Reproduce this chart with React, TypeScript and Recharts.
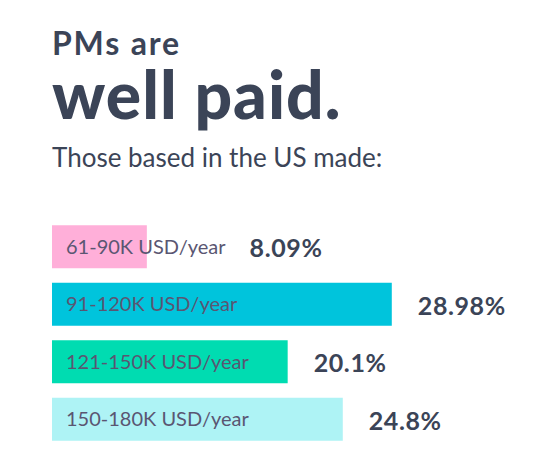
import React from "react";
import { BarChart, Bar, XAxis, YAxis, Cell, LabelList } from "recharts";

const categories = ["61-90K USD/year", "91-120K USD/year", "121-150K USD/year", "150-180K USD/year"];
const shares = [8.09, 28.98, 20.1, 24.8];
const valueLabels = ["8.09%", "28.98%", "20.1%", "24.8%"];
const COLORS = ["#ffafd9", "#00c4dc", "#00dcb1", "#aef3f5"];

const data = categories.map((name, i) => ({ name, value: shares[i], label: valueLabels[i] }));

const DARK = "#3b4457";
const CAT_SIZE = 20;

let canvas: HTMLCanvasElement | null = null;
function textWidth(s: string, font: string) {
  if (!canvas) canvas = document.createElement("canvas");
  const ctx = canvas.getContext("2d")!;
  ctx.font = font;
  return ctx.measureText(s).width;
}

function BarLabel(props: any) {
  const { x, y, width, height, index } = props;
  const cat = categories[index];
  const cy = y + height / 2;
  const textEnd = x + 14 + textWidth(cat, `${CAT_SIZE}px Lato`);
  const vx = Math.max(x + width + 26, textEnd + 24);
  return (
    <g>
      <text x={x + 14} y={cy} dy="0.35em" fill="#5a5672" fontFamily="Lato" fontSize={CAT_SIZE}>
        {cat}
      </text>
      <text
        x={vx}
        y={cy}
        dy="0.42em"
        fill={DARK}
        fontFamily="Lato"
        fontWeight={700}
        fontSize={25}
        letterSpacing={0.6}
      >
        {valueLabels[index]}
      </text>
    </g>
  );
}

export default function App() {
  const abs = (top: number, fs: number): React.CSSProperties => ({
    position: "absolute",
    left: 44,
    top,
    fontSize: fs,
    lineHeight: 1,
    fontFamily: "Lato",
    color: DARK,
    whiteSpace: "nowrap",
  });
  return (
    <div style={{ position: "relative", width: 551, height: 456, background: "#fff" }}>
      <div style={{ ...abs(18.6, 32), fontWeight: 700, letterSpacing: 1.8 }}>PMs are</div>
      <div style={{ ...abs(52.5, 66), fontWeight: 900, letterSpacing: 1 }}>well paid.</div>
      <div style={{ ...abs(135.9, 26), fontWeight: 400 }}>Those based in the US made:</div>
      <div style={{ position: "absolute", left: 44, top: 210 }}>
        <BarChart
          width={490}
          height={230}
          data={data}
          layout="vertical"
          margin={{ top: 0, right: 21, bottom: 0, left: 0 }}
          barCategoryGap="12.7%"
        >
          <XAxis type="number" domain={[0, 40]} hide />
          <YAxis type="category" dataKey="name" hide />
          <Bar dataKey="value" isAnimationActive={false}>
            {data.map((_, i) => (
              <Cell key={i} fill={COLORS[i]} />
            ))}
            <LabelList dataKey="label" content={<BarLabel />} />
          </Bar>
        </BarChart>
      </div>
    </div>
  );
}
